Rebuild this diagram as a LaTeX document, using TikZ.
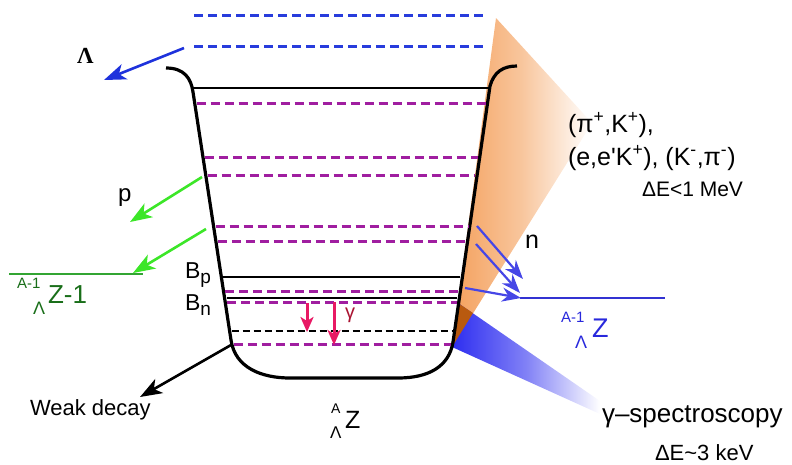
\documentclass[tikz,border=0pt]{standalone}
\usepackage{fontspec}
\setmainfont{Liberation Sans}
\newfontfamily\serifL{Liberation Serif}
\usetikzlibrary{arrows.meta}
\newcommand{\fsz}[1]{\fontsize{#1}{#1}\selectfont}
\definecolor{dashblue}{RGB}{40,60,220}
\definecolor{magen}{RGB}{160,30,160}
\definecolor{lamblue}{RGB}{30,50,220}
\definecolor{pgreen}{RGB}{60,230,40}
\definecolor{lgreen}{RGB}{50,165,50}
\definecolor{tgreen}{RGB}{25,110,25}
\definecolor{gampink}{RGB}{232,25,100}
\definecolor{gamred}{RGB}{170,20,50}
\definecolor{nblue}{RGB}{70,70,230}
\definecolor{lblue}{RGB}{50,50,210}
\definecolor{tblue}{RGB}{40,40,220}
\definecolor{orng}{RGB}{244,160,92}
\definecolor{brwn}{RGB}{185,90,15}
\definecolor{beam}{RGB}{45,45,240}
\newcommand{\lvl}[2]{\draw[#2] ({195+0.1532*(#1-92)},#1) -- ({488-0.1445*(#1-86)},#1);}
\begin{document}
\begin{tikzpicture}[x=1pt,y=-1pt,
  txt/.style={inner sep=0pt, outer sep=0pt},
  arr/.style={-{Stealth[length=22pt,width=16pt,inset=6pt]}, line width=2.6pt},
  narr/.style={-{Stealth[length=19pt,width=14pt,inset=6pt]}, line width=2.2pt, color=nblue},
  garr/.style={-{Stealth[length=15pt,width=13pt,inset=4pt]}, line width=3pt, color=gampink},
  mlev/.style={line width=3pt, magen, dash pattern=on 9pt off 5pt},
  blev/.style={line width=3pt, dashblue, dash pattern=on 9pt off 5pt},
  klev/.style={line width=1.6pt, black},
  kdash/.style={line width=1.6pt, black, dash pattern=on 7pt off 4pt},
  well/.style={line width=3.2pt, black, line join=round}]
\useasboundingbox (0,0) rectangle (792,464);

% orange wedge
\shade[left color=orng, right color=white, middle color=orng!60] (452,347) -- (496,18) -- (592,123) -- cycle;
% blue beam
\shade[left color=beam, right color=white, middle color=beam!60] (452,347) -- (458,303) -- (600,401) -- (600,414) -- cycle;
% overlap
\fill[brwn] (452,347) -- (458,303) -- (473,313) -- cycle;

% top blue dashed levels
\draw[blev] (194,15) -- (485,15);
\draw[blev] (194,46) -- (485,46);

% well
\draw[well] (166,68) .. controls (184,68) and (191,78) .. (193,92) -- (231,340)
  .. controls (235,368) and (262,378) .. (290,378) -- (398,378)
  .. controls (428,378) and (449,367) .. (453,342) -- (490,86)
  .. controls (494,72) and (503,66) .. (517,66);

% levels
\draw[klev] (193,88) -- (489,88);
\lvl{103}{mlev}
\lvl{157}{mlev}
\lvl{175}{mlev}
\lvl{226}{mlev}
\lvl{241}{mlev}
\lvl{277}{klev}
\lvl{291}{mlev}
\lvl{298}{klev}
\lvl{302}{mlev}
\lvl{331}{kdash}
\lvl{344}{mlev}

% coordinates
\coordinate (la0) at (184,48);  \coordinate (la1) at (104,80);
\coordinate (p10) at (202,177); \coordinate (p11) at (130,222);
\coordinate (p20) at (206,229); \coordinate (p21) at (133,273);
\coordinate (wd0) at (231,345); \coordinate (wd1) at (140,397);
\coordinate (g10) at (307,303); \coordinate (g11) at (307,332);
\coordinate (g20) at (334,302); \coordinate (g21) at (334,345);
\coordinate (n10) at (477,226); \coordinate (n11) at (523,279);
\coordinate (n20) at (476,244); \coordinate (n21) at (520,293);
\coordinate (n30) at (465,288); \coordinate (n31) at (521,298);
\coordinate (gl0) at (9,274);   \coordinate (gl1) at (143,274);
\coordinate (bl0) at (520,298); \coordinate (bl1) at (665,298);

\draw[lgreen, line width=2.6pt] (gl0) -- (gl1);
\draw[lblue, line width=2.6pt] (bl0) -- (bl1);

\draw[arr, lamblue] (la0) -- (la1);
\draw[arr, pgreen] (p10) -- (p11);
\draw[arr, pgreen] (p20) -- (p21);
\draw[arr, black] (wd0) -- (wd1);
\draw[garr] (g10) -- (g11);
\draw[garr] (g20) -- (g21);
\draw[narr] (n10) -- (n11);
\draw[narr] (n20) -- (n21);
\draw[narr] (n30) -- (n31);

% texts
\node[txt, anchor=base west, font=\serifL\bfseries\fsz{23}] (lam) at (77,63) {Λ};
\node[txt, anchor=base west, font=\fsz{24}] (ptx) at (118,201) {p};
\node[txt, anchor=base west, font=\fsz{25}] (ntx) at (525,248) {n};
\node[txt, anchor=base west, font=\fsz{25}] (r1) at (568,132) {(π\textsuperscript{+},K\textsuperscript{+}),};
\node[txt, anchor=base west, font=\fsz{25}] (r2) at (568,165) {(e,e\textquotesingle K\textsuperscript{+}), (K\textsuperscript{-},π\textsuperscript{-})};
\node[txt, anchor=base west, font=\fsz{21}] (r3) at (642,196) {ΔE<1 MeV};
\node[txt, anchor=base west, font=\fsz{26}] (gs) at (602,422) {γ–spectroscopy};
\node[txt, anchor=base west, font=\fsz{22}] (gs2) at (655,460) {ΔE\textasciitilde 3 keV};
\node[txt, anchor=base west, font=\fsz{22}] (wk) at (30,415) {Weak decay};
\node[txt, anchor=base west, font=\fsz{23}] (bp) at (185,278) {B\raisebox{-5pt}{\fsz{19}p}};
\node[txt, anchor=base west, font=\fsz{23}] (bn) at (185,310) {B\raisebox{-5pt}{\fsz{19}n}};
\node[txt, anchor=base west, font=\fsz{20}, text=gamred] (gam) at (345,318) {γ};

% nucleus labels
\node[txt, anchor=base west, font=\fsz{25}] (zk) at (345,428) {Z};
\node[txt, anchor=north west, font=\fsz{14}] (zka) at (331,404) {A};
\node[txt, anchor=south west, font=\fsz{17}] (zkl) at (330,438) {Λ};

\node[txt, anchor=base west, font=\fsz{26}, text=tgreen] (zg) at (48,303) {Z-1};
\node[txt, anchor=north west, font=\fsz{15}, text=tgreen] (zga) at (17,278) {A-1};
\node[txt, anchor=south west, font=\fsz{18}, text=tgreen] (zgl) at (33,314) {Λ};

\node[txt, anchor=base west, font=\fsz{27}, text=tblue] (zb) at (592,337) {Z};
\node[txt, anchor=north west, font=\fsz{15}, text=tblue] (zba) at (561,312) {A-1};
\node[txt, anchor=south west, font=\fsz{18}, text=tblue] (zbl) at (575,348) {Λ};
\end{tikzpicture}
\end{document}
